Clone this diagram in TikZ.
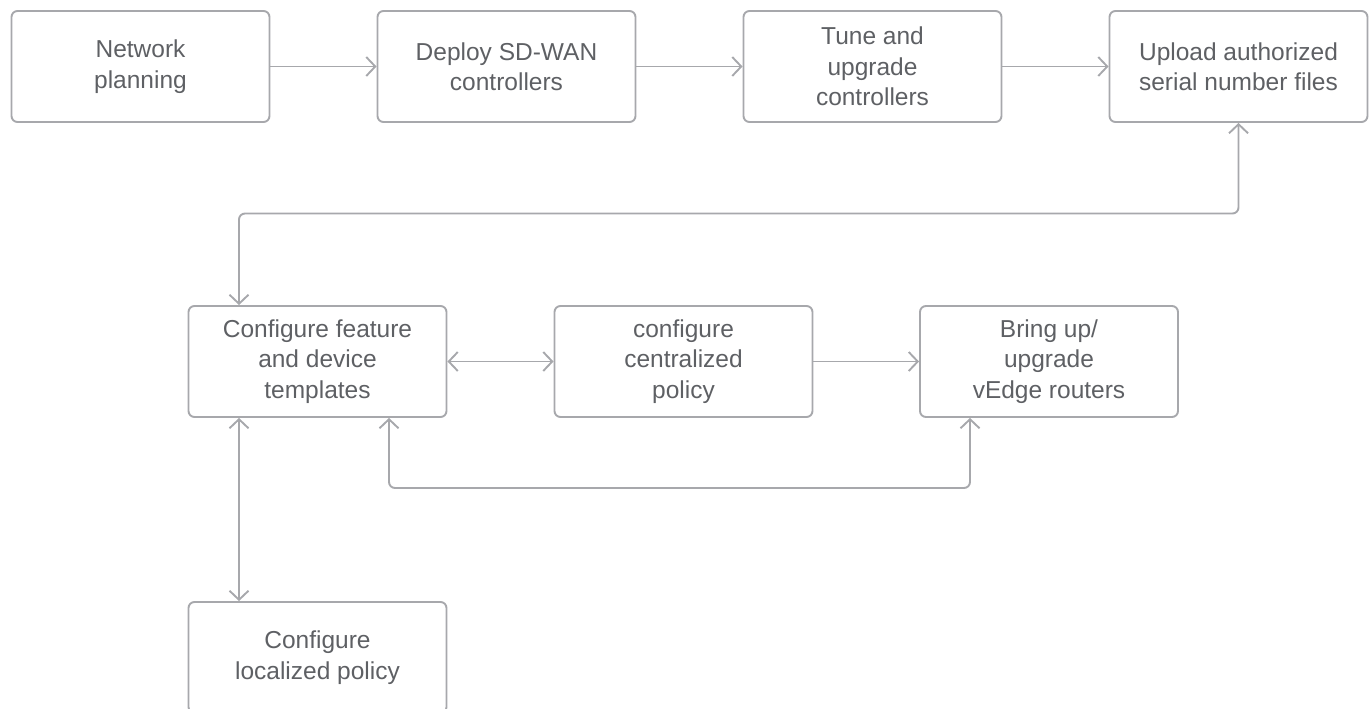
\documentclass[tikz,border=0pt]{standalone}
\usepackage{fontspec}
\setmainfont{Liberation Sans}
\usetikzlibrary{arrows.meta,positioning}
\definecolor{edgegray}{HTML}{A7A8AC}
\definecolor{textgray}{HTML}{5E6064}
\tikzset{
  stepbox/.style={draw=edgegray, line width=1.9pt, rounded corners=6pt,
    minimum width=258pt, minimum height=111pt, inner sep=0pt,
    align=center, text=textgray,
    font=\fontsize{24.5}{30.5}\selectfont},
  barb/.tip={Straight Barb[length=9pt,width=19pt,line width=1.9pt]},
  link/.style={draw=edgegray, line width=1.9pt, rounded corners=6pt, -barb},
  dlink/.style={link, barb-barb},
}
\begin{document}
\begin{tikzpicture}[x=1pt,y=-1pt]
\useasboundingbox (0,0) rectangle (1370,709);
\begin{scope}
\clip (0,0) rectangle (1370,709);
% top row
\node[stepbox] (plan)   at (140.5,66.5)  {Network\\planning};
\node[stepbox] (deploy) at (506.5,66.5)  {Deploy SD-WAN\\controllers};
\node[stepbox] (tune)   at (872.5,66.5)  {Tune and\\upgrade\\controllers};
\node[stepbox] (upload) at (1238.5,66.5) {Upload authorized\\serial number files};
% middle row
\node[stepbox] (tmpl)   at (317.5,361.5) {Configure feature\\and device\\templates};
\node[stepbox] (cpol)   at (683.5,361.5) {configure\\centralized\\policy};
\node[stepbox] (vedge)  at (1049,361.5)  {Bring up/\\upgrade\\vEdge routers};
% bottom
\node[stepbox] (lpol)   at (317.5,657.5) {Configure\\localized policy};

% connectors
\draw[link] (plan) -- (deploy);
\draw[link] (deploy) -- (tune);
\draw[link] (tune) -- (upload);
\coordinate (ua) at (1238.5,213.5);
\coordinate (ub) at (239,213.5);
\draw[dlink] (upload.south) -- (ua) -- (ub) -- (ub |- tmpl.north);
\draw[dlink] (tmpl) -- (cpol);
\draw[link] (cpol) -- (vedge);
\coordinate (va) at (970,488);
\coordinate (vb) at (389,488);
\draw[dlink] (va |- vedge.south) -- (va) -- (vb) -- (vb |- tmpl.south);
\draw[dlink] (ub |- tmpl.south) -- (ub |- lpol.north);
\end{scope}
\end{tikzpicture}
\end{document}
